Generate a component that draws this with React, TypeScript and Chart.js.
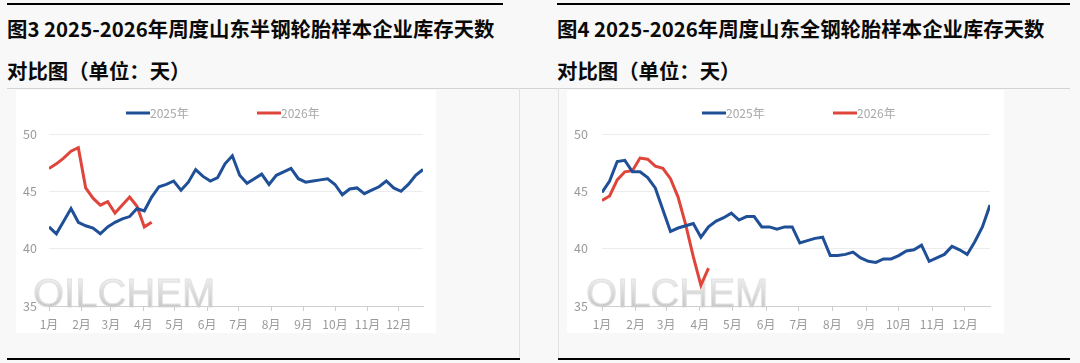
import React, { useEffect, useRef } from "react";
import { Chart, registerables } from "chart.js";

Chart.register(...registerables);

// ---------- data ----------
const weekNumbers = [
  1, 2, 3, 4, 5, 6, 7, 8, 9, 10, 11, 12, 13, 14, 15, 16, 17, 18, 19, 20, 21, 22, 23, 24, 25, 26,
  27, 28, 29, 30, 31, 32, 33, 34, 35, 36, 37, 38, 39, 40, 41, 42, 43, 44, 45, 46, 47, 48, 49, 50, 51, 52,
];
const monthLabels = ["1月", "2月", "3月", "4月", "5月", "6月", "7月", "8月", "9月", "10月", "11月", "12月"];
const monthTickWeeks = [1, 5.43, 9.43, 13.86, 18.14, 22.57, 26.86, 31.29, 35.71, 40, 44.43, 48.71];
const yTicks = [35, 40, 45, 50];
const seriesNames = ["2025年", "2026年"];

const semiSteel2025 = [
  41.9, 41.3, 42.4, 43.5, 42.3, 42.0, 41.8, 41.3, 41.9, 42.3, 42.6, 42.8, 43.5, 43.3, 44.5, 45.4,
  45.6, 45.9, 45.1, 45.8, 46.9, 46.3, 45.9, 46.2, 47.4, 48.1, 46.4, 45.7, 46.1, 46.5, 45.6, 46.4,
  46.7, 47.0, 46.1, 45.8, 45.9, 46.0, 46.1, 45.6, 44.7, 45.2, 45.3, 44.8, 45.1, 45.4, 45.9, 45.3,
  45.0, 45.6, 46.4, 46.9,
];
const semiSteel2026 = [47.0, 47.4, 47.9, 48.5, 48.8, 45.3, 44.4, 43.8, 44.1, 43.1, 43.8, 44.5, 43.7, 41.9, 42.3];

const allSteel2025 = [
  44.9, 45.9, 47.6, 47.7, 46.7, 46.7, 46.2, 45.3, 43.4, 41.5, 41.8, 42.0, 42.2, 41.0, 41.9, 42.4,
  42.7, 43.1, 42.5, 42.8, 42.8, 41.9, 41.9, 41.7, 41.9, 41.9, 40.5, 40.7, 40.9, 41.0, 39.4, 39.4,
  39.5, 39.7, 39.2, 38.9, 38.8, 39.1, 39.1, 39.4, 39.8, 39.9, 40.3, 38.9, 39.2, 39.5, 40.2, 39.9,
  39.5, 40.6, 41.9, 43.8,
];
const allSteel2026 = [44.2, 44.6, 46.0, 46.7, 46.8, 47.9, 47.8, 47.2, 47.0, 46.1, 44.5, 42.1, 39.3, 36.8, 38.3];

const titleSemi = ["图3 2025-2026年周度山东半钢轮胎样本企业库存天数", "对比图（单位：天）"];
const titleAll = ["图4 2025-2026年周度山东全钢轮胎样本企业库存天数", "对比图（单位：天）"];

// ---------- styles ----------
const BLUE = "#1f4f97";
const RED = "#e0453b";
const TICK_COLOR = "#9a9a9a";
const FONT = '"Noto Sans CJK SC", "Noto Sans", sans-serif';

const toPoints = (vals: number[]) => vals.map((v, i) => ({ x: weekNumbers[i], y: v }));

const legendPlugin = {
  id: "customLegend",
  afterDraw(chart: any, _args: any, opts: any) {
    const ctx = chart.ctx;
    ctx.save();
    let x = opts.x0;
    const y = opts.y;
    chart.data.datasets.forEach((ds: any) => {
      ctx.strokeStyle = ds.borderColor;
      ctx.lineWidth = 3;
      ctx.beginPath();
      ctx.moveTo(x, y);
      ctx.lineTo(x + 24, y);
      ctx.stroke();
      ctx.fillStyle = "#a8a8a8";
      ctx.font = `12px ${FONT}`;
      ctx.textBaseline = "middle";
      ctx.textAlign = "left";
      ctx.fillText(ds.label, x + 24, y + 0.5);
      x += opts.gap;
    });
    ctx.restore();
  },
};

const watermarkPlugin = {
  id: "watermark",
  beforeDraw(chart: any, _args: any, opts: any) {
    const ctx = chart.ctx;
    const { left, bottom } = chart.chartArea;
    ctx.save();
    ctx.font = `40px "Liberation Sans", Arial, sans-serif`;
    const g = ctx.createLinearGradient(0, bottom - 30, 0, bottom);
    g.addColorStop(0, "#f3f3f3");
    g.addColorStop(0.5, "#dcdcdc");
    g.addColorStop(1, "#c8c8c8");
    ctx.fillStyle = g;
    ctx.strokeStyle = "#e2e2e2";
    ctx.lineWidth = 1;
    ctx.textBaseline = "alphabetic";
    ctx.textAlign = "left";
    ctx.fillText("OILCHEM", left + opts.dx, bottom + 1);
    ctx.strokeText("OILCHEM", left + opts.dx, bottom + 1);
    ctx.restore();
  },
};

type PanelCfg = {
  s2025: number[];
  s2026: number[];
  width: number;
  yWidth: number;
  yPad: number;
  rightPad: number;
  legendX: number;
};

function LineChart({ cfg }: { cfg: PanelCfg }) {
  const ref = useRef<HTMLCanvasElement | null>(null);
  useEffect(() => {
    if (!ref.current) return;
    const chart = new Chart(ref.current, {
      type: "line",
      data: {
        datasets: [
          {
            label: seriesNames[0],
            data: toPoints(cfg.s2025),
            borderColor: BLUE,
            backgroundColor: BLUE,
            borderWidth: 3,
            pointRadius: 0,
            tension: 0,
          },
          {
            label: seriesNames[1],
            data: toPoints(cfg.s2026),
            borderColor: RED,
            backgroundColor: RED,
            borderWidth: 3,
            pointRadius: 0,
            tension: 0,
          },
        ],
      },
      options: {
        animation: false,
        responsive: false,
        maintainAspectRatio: false,
        layout: { padding: { top: 44, right: cfg.rightPad, left: 0, bottom: 0 } },
        plugins: {
          legend: { display: false },
          tooltip: { enabled: false },
          customLegend: { x0: cfg.legendX, y: 23, gap: 131 },
          watermark: { dx: -16 },
        } as any,
        scales: {
          x: {
            type: "linear",
            min: 1,
            max: 52,
            afterBuildTicks: (s: any) => {
              s.ticks = monthTickWeeks.map((v) => ({ value: v }));
            },
            afterFit: (s: any) => {
              s.height = 27;
            },
            ticks: {
              autoSkip: false,
              maxRotation: 0,
              minRotation: 0,
              padding: 6,
              color: TICK_COLOR,
              font: { family: FONT, size: 12 },
              callback: (_v: any, i: number) => monthLabels[i],
            },
            grid: { drawOnChartArea: false, drawTicks: true, tickLength: 5, color: "#cfcfcf" },
            border: { display: true, color: "#cfcfcf", width: 1 },
          },
          y: {
            min: 35,
            max: 50,
            afterBuildTicks: (s: any) => {
              s.ticks = yTicks.map((v) => ({ value: v }));
            },
            afterFit: (s: any) => {
              s.width = cfg.yWidth;
            },
            ticks: {
              padding: cfg.yPad,
              color: TICK_COLOR,
              font: { family: FONT, size: 12.5 },
            },
            grid: { drawTicks: false, color: "#ececec" },
            border: { display: false },
          },
        } as any,
      },
      plugins: [legendPlugin, watermarkPlugin],
    });
    return () => chart.destroy();
  }, [cfg]);
  return <canvas ref={ref} width={cfg.width} height={243} style={{ display: "block", width: cfg.width, height: 243 }} />;
}

const semiCfg: PanelCfg = {
  s2025: semiSteel2025,
  s2026: semiSteel2026,
  width: 420,
  yWidth: 33,
  yPad: 12,
  rightPad: 13,
  legendX: 110,
};
const allCfg: PanelCfg = {
  s2025: allSteel2025,
  s2026: allSteel2026,
  width: 437,
  yWidth: 35,
  yPad: 14,
  rightPad: 14,
  legendX: 135,
};

const abs = (l: number, t: number, w: number, h: number, bg: string): React.CSSProperties => ({
  position: "absolute",
  left: l,
  top: t,
  width: w,
  height: h,
  background: bg,
});

function Title({ left, lines }: { left: number; lines: string[] }) {
  return (
    <div
      style={{
        position: "absolute",
        left,
        top: 7,
        fontFamily: FONT,
        fontWeight: 700,
        fontSize: 20.4,
        lineHeight: "42px",
        color: "#0a0a0a",
        whiteSpace: "nowrap",
      }}
    >
      <div>{lines[0]}</div>
      <div>{lines[1]}</div>
    </div>
  );
}

export default function App() {
  return (
    <div style={{ position: "absolute", left: 0, top: 0, width: 1080, height: 363, background: "#f8f8f8", overflow: "hidden" }}>
      {/* top black rules */}
      <div style={abs(7, 3, 496, 2, "#000")} />
      <div style={abs(557, 3, 513, 2, "#000")} />
      {/* grey separator */}
      <div style={abs(7, 88, 1063, 1, "#d4d4d4")} />
      {/* vertical panel borders */}
      <div style={abs(519, 88, 1, 270, "#e2e2e2")} />
      <div style={abs(558, 88, 1, 270, "#e2e2e2")} />
      {/* bottom black rules */}
      <div style={abs(7, 358, 513, 2, "#000")} />
      <div style={abs(558, 358, 512, 2, "#000")} />

      <Title left={7} lines={titleSemi} />
      <Title left={557} lines={titleAll} />

      <div style={{ position: "absolute", left: 16, top: 90, background: "#fff" }}>
        <LineChart cfg={semiCfg} />
      </div>
      <div style={{ position: "absolute", left: 567, top: 90, background: "#fff" }}>
        <LineChart cfg={allCfg} />
      </div>
    </div>
  );
}
